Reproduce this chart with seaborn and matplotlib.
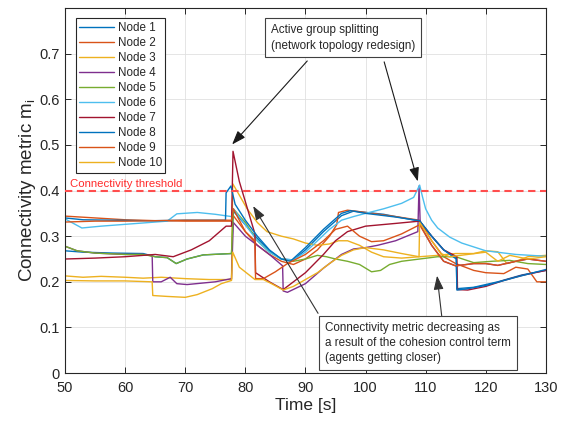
import numpy as np
import pandas as pd
import matplotlib
matplotlib.use("Agg")
import matplotlib.pyplot as plt
import seaborn as sns

# ---------------- data ----------------
t1 = [50, 53, 58, 63, 65, 67, 68.5, 70.3, 73, 77.7, 78, 80, 82, 84, 86, 88, 90, 93, 96, 98, 103, 109, 111, 113, 115.1, 115.2, 118, 122, 126, 130]
m1 = [0.268, 0.265, 0.263, 0.262, 0.255, 0.253, 0.24, 0.25, 0.259, 0.262, 0.355, 0.325, 0.295, 0.268, 0.25, 0.248, 0.27, 0.31, 0.345, 0.355, 0.348, 0.333, 0.3, 0.27, 0.252, 0.185, 0.188, 0.2, 0.215, 0.225]

t2 = [50, 55, 60, 65, 70, 77.7, 78, 80, 82, 84, 86, 88, 90, 92, 94, 95.2, 95.5, 97, 100, 105, 109, 111, 113, 115, 118, 120, 123, 125, 127, 128.5, 130]
m2 = [0.344, 0.34, 0.336, 0.334, 0.333, 0.333, 0.345, 0.31, 0.28, 0.26, 0.245, 0.238, 0.25, 0.27, 0.3, 0.325, 0.352, 0.357, 0.352, 0.343, 0.335, 0.29, 0.255, 0.24, 0.225, 0.22, 0.218, 0.232, 0.228, 0.2, 0.2]

t3 = [50, 53, 56, 60, 63, 66, 70, 74, 77.7, 77.9, 79, 80.3, 82, 83.6, 86, 88, 90, 92, 94, 95.5, 97, 99, 101, 103, 106, 109, 112, 115, 118, 120, 122, 123.5, 125, 127, 130]
m3 = [0.213, 0.21, 0.212, 0.21, 0.208, 0.21, 0.207, 0.205, 0.205, 0.415, 0.39, 0.36, 0.33, 0.31, 0.3, 0.294, 0.285, 0.28, 0.283, 0.29, 0.29, 0.28, 0.265, 0.255, 0.252, 0.255, 0.258, 0.262, 0.262, 0.268, 0.266, 0.24, 0.245, 0.255, 0.258]

t4 = [50, 52, 55, 60, 63, 64.5, 64.6, 66, 67.5, 68.6, 70.3, 75, 77.7, 78, 80, 82, 84, 86.2, 86.3, 87, 90, 93, 96, 98, 100, 102, 105, 108.7, 108.9, 109.1, 111, 113, 115, 118, 120, 122, 125, 127, 130]
m4 = [0.278, 0.268, 0.263, 0.26, 0.26, 0.257, 0.2, 0.2, 0.21, 0.196, 0.194, 0.2, 0.207, 0.33, 0.3, 0.28, 0.26, 0.235, 0.18, 0.177, 0.196, 0.23, 0.26, 0.272, 0.275, 0.28, 0.29, 0.31, 0.41, 0.325, 0.28, 0.245, 0.235, 0.24, 0.24, 0.236, 0.245, 0.25, 0.245]

t5 = [50, 52, 55, 60, 63, 65, 67, 68.5, 70.3, 73, 77.7, 78, 80, 82, 84, 86, 88, 90, 92, 93.5, 95, 97, 99, 101, 102.5, 104, 106, 109, 112, 115, 118, 121, 124, 127, 130]
m5 = [0.278, 0.268, 0.263, 0.26, 0.26, 0.255, 0.253, 0.24, 0.25, 0.259, 0.262, 0.36, 0.33, 0.29, 0.265, 0.25, 0.245, 0.25, 0.258, 0.255, 0.25, 0.245, 0.238, 0.222, 0.225, 0.238, 0.245, 0.25, 0.255, 0.255, 0.242, 0.245, 0.247, 0.24, 0.238]

t6 = [50, 52.8, 56, 60, 64, 67, 68.6, 72, 75, 77.7, 78, 80, 82, 84, 86, 88, 90, 92, 94, 96, 98, 100, 103, 106, 108, 109, 109.5, 110, 111, 112, 114, 116, 120, 125, 130]
m6 = [0.338, 0.318, 0.322, 0.326, 0.33, 0.333, 0.349, 0.352, 0.348, 0.343, 0.36, 0.325, 0.29, 0.265, 0.25, 0.248, 0.265, 0.29, 0.315, 0.335, 0.343, 0.35, 0.36, 0.372, 0.385, 0.412, 0.385, 0.36, 0.335, 0.318, 0.298, 0.285, 0.268, 0.26, 0.256]

t7 = [50, 55, 60, 65, 68, 71, 74, 76.8, 77.7, 77.95, 79, 81.6, 81.7, 84, 86.3, 88, 90, 93, 95, 97, 100, 105, 109, 111, 113, 115.2, 115.3, 117, 120, 123, 126, 130]
m7 = [0.25, 0.252, 0.255, 0.26, 0.255, 0.27, 0.29, 0.322, 0.322, 0.486, 0.42, 0.305, 0.22, 0.2, 0.183, 0.2, 0.22, 0.26, 0.29, 0.31, 0.322, 0.328, 0.333, 0.3, 0.27, 0.255, 0.183, 0.182, 0.19, 0.203, 0.214, 0.225]

t8 = [50, 53, 58, 63, 65, 70, 76.7, 76.8, 77.6, 78.3, 80, 82, 84, 86, 87.5, 90, 93, 96, 97.5, 100, 105, 109, 111, 113, 115.1, 115.2, 117, 120, 125, 130]
m8 = [0.34, 0.336, 0.335, 0.334, 0.334, 0.335, 0.335, 0.395, 0.41, 0.37, 0.335, 0.3, 0.27, 0.25, 0.245, 0.275, 0.315, 0.35, 0.356, 0.35, 0.342, 0.334, 0.3, 0.27, 0.25, 0.182, 0.185, 0.192, 0.21, 0.227]

t9 = [50, 55, 60, 65, 70, 77.7, 78, 80, 81.6, 81.7, 83, 85, 87, 90, 93, 95, 97, 99, 101, 103, 106, 109, 111, 113, 115, 118, 120, 122, 125, 127, 130]
m9 = [0.331, 0.333, 0.333, 0.334, 0.335, 0.335, 0.36, 0.31, 0.29, 0.207, 0.207, 0.222, 0.24, 0.26, 0.29, 0.315, 0.322, 0.3, 0.288, 0.29, 0.305, 0.325, 0.28, 0.245, 0.235, 0.24, 0.24, 0.236, 0.245, 0.25, 0.245]

t10 = [50, 55, 60, 64.5, 64.6, 67, 70, 72, 74.5, 76, 77.7, 77.9, 79, 81.6, 83, 84.5, 86.3, 88, 90, 92, 94, 96, 98, 100, 103, 106, 108.9, 109, 111, 112.5, 114, 117, 120, 122, 124, 127, 130]
m10 = [0.203, 0.202, 0.202, 0.2, 0.17, 0.168, 0.166, 0.172, 0.185, 0.196, 0.203, 0.265, 0.232, 0.205, 0.205, 0.195, 0.182, 0.19, 0.205, 0.22, 0.24, 0.258, 0.27, 0.275, 0.27, 0.262, 0.255, 0.33, 0.29, 0.262, 0.255, 0.26, 0.265, 0.245, 0.258, 0.25, 0.255]

node_names = ["Node 1", "Node 2", "Node 3", "Node 4", "Node 5",
              "Node 6", "Node 7", "Node 8", "Node 9", "Node 10"]
node_colors = ["#0072BD", "#D95319", "#EDB120", "#7E2F8E", "#77AC30",
               "#4DBEEE", "#A2142F", "#0072BD", "#D95319", "#EDB120"]
threshold = 0.4
x_ticks = [50, 60, 70, 80, 90, 100, 110, 120, 130]
y_ticks = [0, 0.1, 0.2, 0.3, 0.4, 0.5, 0.6, 0.7]
y_tick_labels = ["0", "0.1", "0.2", "0.3", "0.4", "0.5", "0.6", "0.7"]

series_t = [t1, t2, t3, t4, t5, t6, t7, t8, t9, t10]
series_m = [m1, m2, m3, m4, m5, m6, m7, m8, m9, m10]

frames = []
for name, tt, mm in zip(node_names, series_t, series_m):
    frames.append(pd.DataFrame({"Time": tt, "m": mm, "Node": name}))
df = pd.concat(frames, ignore_index=True)

# ---------------- style ----------------
sns.set_theme(style="whitegrid")
plt.rcParams["font.family"] = ["Liberation Sans", "DejaVu Sans"]
plt.rcParams["mathtext.fontset"] = "custom"
plt.rcParams["mathtext.rm"] = "Liberation Sans"

fig = plt.figure(figsize=(5.61, 4.23), dpi=100)
ax = fig.add_axes([0.1159, 0.118, 0.8571, 0.863])

sns.lineplot(data=df, x="Time", y="m", hue="Node", hue_order=node_names,
             palette=node_colors, estimator=None, sort=False, lw=1.0,
             legend=False, ax=ax)

line_handles = list(ax.lines[:10])

ax.axhline(threshold, color="#ff4d4d", lw=1.5, dashes=(3.5, 2.2), zorder=3)
ax.text(50.9, threshold + 0.004, "Connectivity threshold", color="#ff2a2a",
        fontsize=8.2, va="bottom", ha="left")

ax.set_xlim(50, 130)
ax.set_ylim(0, 0.8)
ax.set_xticks(x_ticks)
ax.set_yticks(y_ticks)
ax.set_yticklabels(y_tick_labels)
ax.tick_params(axis="both", labelsize=10.5, colors="#262626", direction="in",
               length=4, width=0.7, top=True, right=True,
               bottom=True, left=True)
ax.tick_params(axis="x", pad=6)
ax.tick_params(axis="y", pad=4)
for s in ax.spines.values():
    s.set_color("#262626")
    s.set_linewidth(0.8)
    s.set_visible(True)
ax.grid(True, color="#e0e0e0", lw=0.6)
ax.set_facecolor("white")

ax.set_xlabel("Time [s]", fontsize=12.5, color="#262626", labelpad=2)
ax.set_ylabel("Connectivity metric m$_{\\mathrm{i}}$", fontsize=13.5,
              color="#262626", labelpad=1)

leg = ax.legend(line_handles, node_names, loc="upper left",
                bbox_to_anchor=(0.022, 0.972), fontsize=8.4,
                frameon=True, fancybox=False, edgecolor="#262626",
                framealpha=1, borderpad=0.3, labelspacing=0.26,
                handlelength=3.0, handletextpad=0.3, borderaxespad=0)
leg.get_frame().set_linewidth(0.8)

# ---------------- annotations ----------------
box_kw = dict(boxstyle="square,pad=0.5", fc="white", ec="#404040", lw=0.8)
ax.text(84.3, 0.765, "Active group splitting\n(network topology redesign)",
        fontsize=8.4, va="top", ha="left", linespacing=1.4, color="#262626",
        bbox=box_kw, zorder=6)
ax.text(93.3, 0.113,
        "Connectivity metric decreasing as\na result of the cohesion control term\n(agents getting closer)",
        fontsize=8.4, va="top", ha="left", linespacing=1.35, color="#262626",
        bbox=box_kw, zorder=6)

arrow_kw = dict(arrowstyle="-|>,head_length=0.7,head_width=0.25",
                color="#1a1a1a", lw=0.8, shrinkA=0, shrinkB=0,
                mutation_scale=12)
ax.annotate("", xy=(77.8, 0.501), xytext=(90.3, 0.684), arrowprops=arrow_kw, zorder=5)
ax.annotate("", xy=(108.7, 0.42), xytext=(103.1, 0.682), arrowprops=arrow_kw, zorder=5)
arrow_kw2 = dict(arrow_kw, color="#333333")
ax.annotate("", xy=(81.3, 0.366), xytext=(92.1, 0.131), arrowprops=arrow_kw2, zorder=5)
ax.annotate("", xy=(111.9, 0.2135), xytext=(112.7, 0.122), arrowprops=arrow_kw2, zorder=5)

fig.savefig("out.png", dpi=100)
